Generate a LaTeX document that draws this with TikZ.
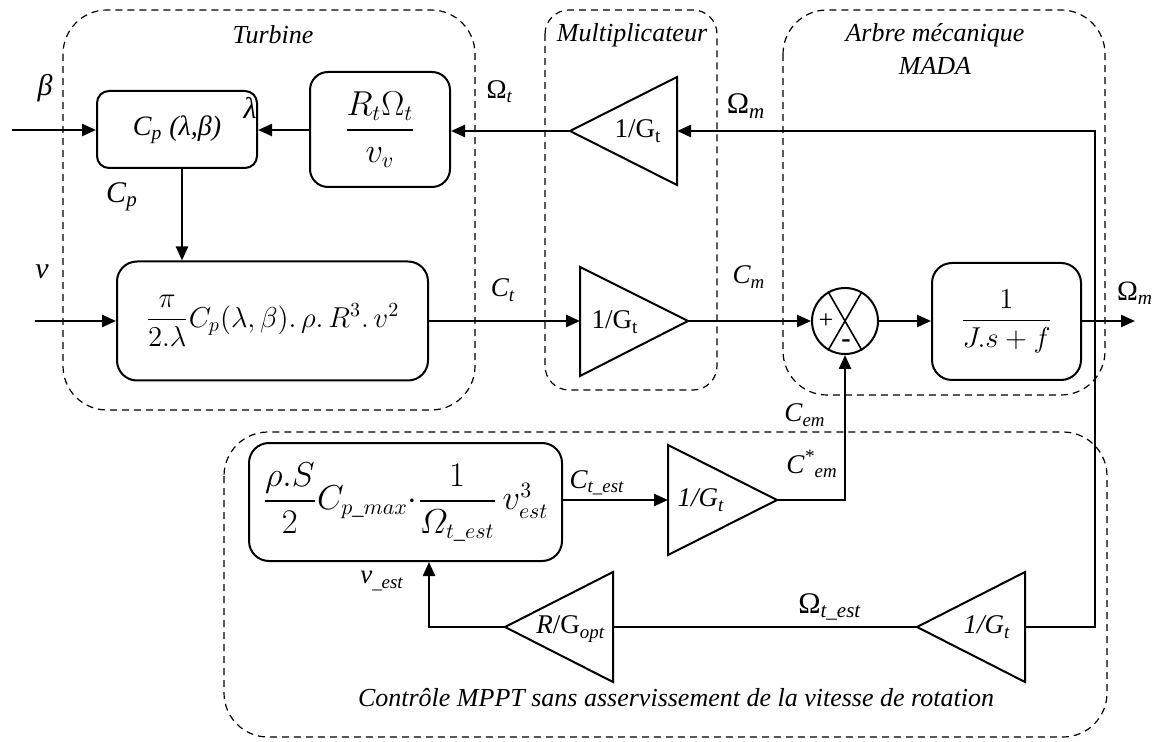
\documentclass[tikz,border=0pt]{standalone}
\usepackage{amsmath}
\usepackage{fontspec}
\setmainfont{Liberation Serif}
\usetikzlibrary{arrows.meta}
\newcommand\lsub[1]{\textsubscript{#1}}
\tikzset{
  blk/.style={draw, line width=1pt, rounded corners=8pt, align=center, inner sep=0pt},
  arr/.style={line width=1.2pt, -{Triangle[length=7pt,width=6pt]}},
  ln/.style={line width=1.2pt},
  tri/.style={draw, line width=1pt, line join=miter},
  grp/.style={draw, line width=0.6pt, dash pattern=on 3.5pt off 2.5pt},
  lab/.style={inner sep=0pt, font=\fontsize{13.5}{15}\selectfont\itshape},
  glab/.style={inner sep=0pt, font=\fontsize{13}{15}\selectfont\itshape, align=center},
  fml/.style={font=\fontsize{14}{16}\selectfont},
}
\begin{document}
\begin{tikzpicture}[x=0.5pt,y=-0.5pt]
\useasboundingbox (0,0) rectangle (1160,742);

% group boxes
\draw[grp, rounded corners=22pt] (63,10) rectangle (475,410);
\draw[grp, rounded corners=12pt] (545,10) rectangle (717,390);
\draw[grp, rounded corners=22pt] (783,10) rectangle (1105,395);
\draw[grp, rounded corners=22pt] (224,432) rectangle (1107,737);
\node[glab] (gturb) at (273,35) {Turbine};
\node[glab] (gmult) at (632,35) {Multiplicateur};
\node[glab] (garb) at (935,35) {Arbre mécanique};
\node[glab] (gmada) at (935,66) {MADA};
\node[glab] (gmppt) at (676,698) {Contrôle MPPT sans asservissement de la vitesse de rotation};

% blocks
\node[blk, rounded corners=6pt, minimum width=80pt, minimum height=38.5pt, font=\fontsize{14}{16}\selectfont\itshape] (cp) at (177,129.5) {C\lsub{p} (λ,β)};
\node[blk, rounded corners=9pt, minimum width=70pt, minimum height=57.5pt, font=\fontsize{16}{18}\selectfont] (rt) at (380,129.5) {$\dfrac{R_t\Omega_t}{v_v}$};
\node[blk, rounded corners=10pt, minimum width=155.5pt, minimum height=59.5pt, fml] (pw) at (272.5,321) {\raisebox{6pt}{$\dfrac{\pi}{2.\lambda}C_p(\lambda,\beta).\,\rho.\,R^3.\,v^2$}};
\node[blk, rounded corners=10pt, minimum width=74.5pt, minimum height=58.5pt, font=\fontsize{14.5}{16}\selectfont] (J) at (1006.5,321.5) {$\dfrac{1}{J.s+f}$};
\node[blk, rounded corners=10pt, minimum width=156.5pt, minimum height=59pt, font=\fontsize{16}{18}\selectfont] (f) at (405.5,502) {$\dfrac{\rho.S}{2}C_{p\_max}{\cdot}\dfrac{1}{\varOmega_{t\_est}}\,v^3_{est}$};
\node[circle, draw, line width=1pt, minimum size=33pt, inner sep=0pt] (sum) at (845,321) {};
\draw[line width=0.8pt] (sum.60) -- (sum.240) (sum.120) -- (sum.300);
\node[inner sep=0pt, font=\fontsize{13}{15}\selectfont] (splus) at (826,321) {+};
\node[inner sep=0pt, font=\fontsize{14}{15}\selectfont\bfseries] (sminus) at (846,344) {-};

% triangles
\draw[tri] (570,131) coordinate (t1tip) -- (677,77) -- (677,185) -- cycle;
\coordinate (t1base) at (677,131);
\node[inner sep=0pt, font=\fontsize{13.5}{15}\selectfont] (t1lab) at (638,131) {1/G\lsub{t}};

\draw[tri] (580,267) -- (688,321) coordinate (t2tip) -- (580,376) -- cycle;
\coordinate (t2base) at (580,321);
\node[inner sep=0pt, font=\fontsize{13.5}{15}\selectfont] (t2lab) at (615,322) {1/G\lsub{t}};

\draw[tri] (668,445) -- (777,500) coordinate (t3tip) -- (668,555) -- cycle;
\coordinate (t3base) at (668,500);
\node[inner sep=0pt, font=\fontsize{13.5}{15}\selectfont\itshape] (t3lab) at (701,500) {1/G\lsub{t}};

\draw[tri] (505,627) coordinate (t4tip) -- (613,572) -- (613,682) -- cycle;
\coordinate (t4base) at (613,627);
\node[inner sep=0pt, font=\fontsize{13.5}{15}\selectfont] (t4lab) at (571,629) {\textit{R}/G\lsub{\textit{opt}}};

\draw[tri] (917,627) coordinate (t5tip) -- (1025,572) -- (1025,682) -- cycle;
\coordinate (t5base) at (1025,627);
\node[inner sep=0pt, font=\fontsize{13.5}{15}\selectfont\itshape] (t5lab) at (987,627) {1/G\lsub{t}};

% free ends
\coordinate (inb) at (12,130);
\coordinate (inv) at (35,321);
\coordinate (outm) at (1135,321);
\coordinate (br) at (1095,321);
\coordinate (vin) at (429,627);

% connectors
\draw[arr] (inb) -- (inb -| cp.west);
\draw[arr] (rt.west |- inb) -- (cp.east |- inb);
\draw[arr] (t1tip) -- (rt.east |- t1tip);
\draw[arr] (br) |- (t1base);
\draw[ln] (br) |- (t5base);
\draw[arr] ([xshift=2.5pt]cp.south) -- ([xshift=2.5pt]cp.south |- pw.north);
\draw[arr] (inv) -- (pw.west);
\draw[arr] (pw.east) -- (t2base);
\draw[arr] (t2tip) -- (sum.west);
\draw[arr] (sum.east) -- (J.west |- sum.east);
\draw[arr] (J.east |- outm) -- (outm);
\draw[arr] (f.east |- t3base) -- (t3base);
\draw[arr] (t3tip) -| (sum.south);
\draw[ln] (t5tip) -- (t4base);
\draw[arr] (t4tip) -- (vin) -- (vin |- f.south);

% labels
\node[lab, font=\fontsize{15}{15}\selectfont\itshape] (lbeta) at (45,88) {β};
\node[lab, font=\fontsize{15}{15}\selectfont\itshape] (llam) at (250,108) {λ};
\node[lab, font=\fontsize{13.5}{15}\selectfont] (lot) at (500,92) {Ω\lsub{\textit{t}}};
\node[lab, font=\fontsize{15}{15}\selectfont] (lom) at (746,106) {Ω\lsub{\textit{m}}};
\node[lab, font=\fontsize{15}{16}\selectfont\itshape] (lcp) at (122,197) {C\lsub{p}};
\node[lab, font=\fontsize{15}{15}\selectfont\itshape] (lv) at (42,272) {v};
\node[lab] (lct) at (503,290) {C\lsub{t}};
\node[lab] (lcm) at (749,277) {C\lsub{m}};
\node[lab, font=\fontsize{14}{15}\selectfont] (lomo) at (1135,293) {Ω\lsub{\textit{m}}};
\node[lab] (lcem) at (805,415) {C\lsub{em}};
\node[lab] (lcems) at (812,464) {C\textsuperscript{*}\lsub{em}};
\node[lab] (lctest) at (597,483) {C\lsub{t\_est}};
\node[lab] (lvest) at (382,581) {v\lsub{\_est}};
\node[lab, font=\fontsize{15}{15}\selectfont] (lotest) at (830,607) {Ω\lsub{\textit{t\_est}}};
\end{tikzpicture}
\end{document}
